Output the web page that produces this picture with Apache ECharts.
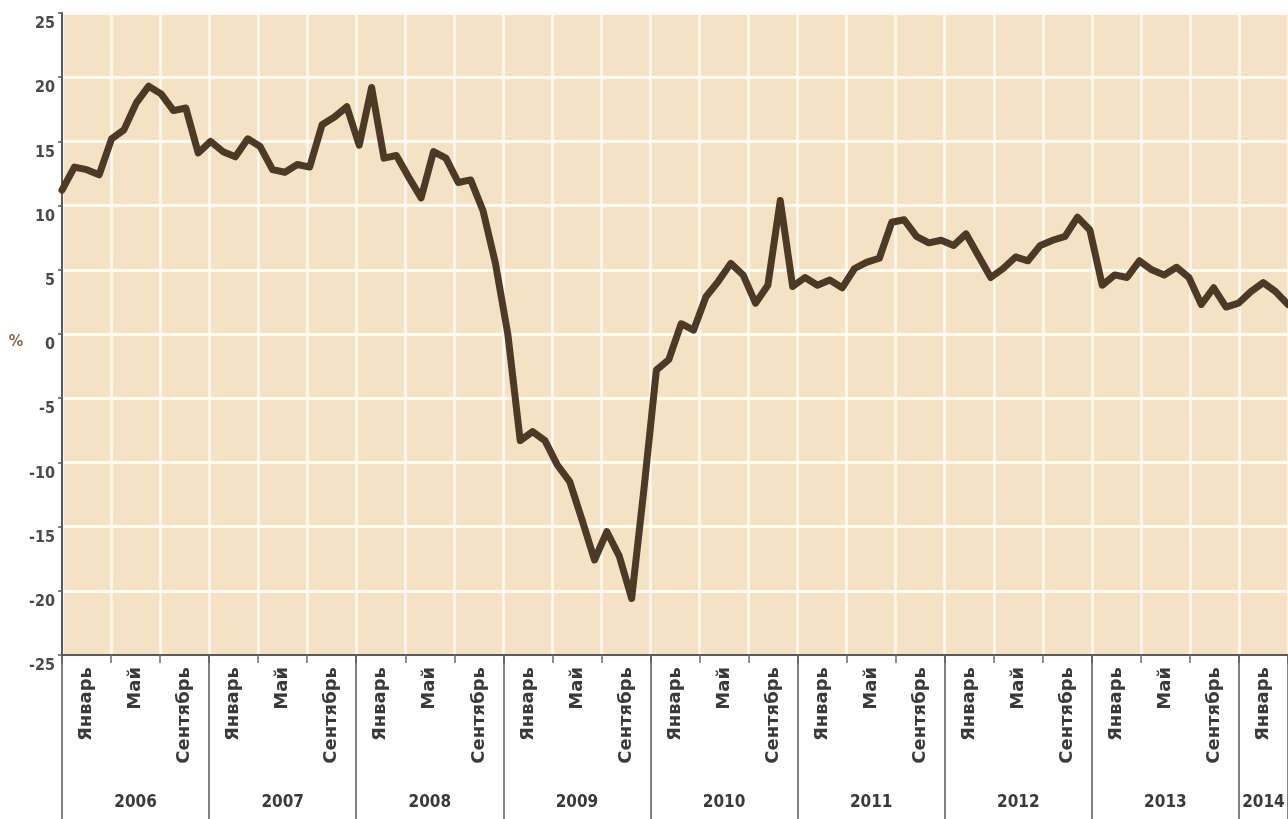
<!DOCTYPE html>
<html>
<head>
<meta charset="utf-8">
<script src="https://cdn.jsdelivr.net/npm/echarts@6/dist/echarts.min.js"></script>
<style>
  html, body { margin: 0; padding: 0; background: #ffffff; overflow: hidden; }
  #chart { width: 1288px; height: 819px; }
</style>
</head>
<body>
<div id="chart"></div>
<script>
// ---- data ----
const years = ['2006', '2007', '2008', '2009', '2010', '2011', '2012', '2013', '2014'];
const monthCodes = ['01', '02', '03', '04', '05', '06', '07', '08', '09', '10', '11', '12'];
const groupNames = ['Январь', 'Май', 'Сентябрь'];   // each labels a 4-month block
const values = [
  // 2006
  11.2, 13.0, 12.8, 12.4, 15.2, 15.9, 18.0, 19.3, 18.7, 17.4, 17.6, 14.1,
  // 2007
  15.0, 14.2, 13.8, 15.2, 14.6, 12.8, 12.6, 13.2, 13.0, 16.3, 16.9, 17.7,
  // 2008
  14.7, 19.2, 13.7, 13.9, 12.2, 10.6, 14.2, 13.7, 11.8, 12.0, 9.6, 5.5,
  // 2009
  0.0, -8.3, -7.6, -8.3, -10.2, -11.5, -14.5, -17.6, -15.4, -17.3, -20.6, -12.0,
  // 2010
  -2.8, -2.0, 0.8, 0.3, 2.9, 4.1, 5.5, 4.6, 2.4, 3.8, 10.4, 3.7,
  // 2011
  4.4, 3.8, 4.2, 3.6, 5.1, 5.6, 5.9, 8.7, 8.9, 7.6, 7.1, 7.3,
  // 2012
  6.9, 7.8, 6.1, 4.4, 5.1, 6.0, 5.7, 6.9, 7.3, 7.6, 9.1, 8.1,
  // 2013
  3.8, 4.6, 4.4, 5.7, 5.0, 4.6, 5.2, 4.4, 2.3, 3.6, 2.1, 2.4,
  // 2014
  3.3, 4.0, 3.3, 2.3
];
const yTicks = { min: -25, max: 25, step: 5 };

// ---- derived categories ----
const months = years.flatMap(y => monthCodes.map(m => y + '-' + m)).slice(0, values.length);
const groupCount = Math.ceil(months.length / 4);
const groups = [];
const groupYear = [];
for (let i = 0; i < groupCount; i++) {
  const yr = years[Math.floor(i / 3)];
  groups.push(yr + ' ' + groupNames[i % 3]);
  groupYear.push(yr);
}
// middle block of every year carries the year label
const yearLabelAt = {};
years.forEach(y => {
  const idx = [];
  groupYear.forEach((g, i) => { if (g === y) idx.push(i); });
  if (idx.length) yearLabelAt[idx[Math.floor(idx.length / 2)]] = y;
});

const narrow = '"Liberation Sans Narrow", "DejaVu Sans Condensed", "Arial Narrow", sans-serif';

const chart = echarts.init(document.getElementById('chart'), null, { renderer: 'canvas' });
chart.setOption({
  animation: false,
  backgroundColor: '#ffffff',
  grid: {
    left: 62, right: 0, top: 13, bottom: 164,
    outerBoundsMode: 'none',
    containLabel: false,
    show: true, backgroundColor: '#f5e1c3', borderWidth: 0
  },
  xAxis: [
    {
      type: 'category',
      data: months,
      boundaryGap: false,
      position: 'bottom',
      axisLine: { show: true, onZero: false, lineStyle: { color: '#5a5a5a', width: 2 } },
      axisTick: { show: false },
      axisLabel: { show: false },
      splitLine: { show: false }
    },
    {
      type: 'category',
      data: groups,
      boundaryGap: true,
      position: 'bottom',
      axisLine: { show: false, onZero: false },
      axisTick: { show: true, interval: 0, length: 8, lineStyle: { color: '#6a6a6a', width: 1.5 } },
      splitLine: { show: true, interval: 0, lineStyle: { color: '#fffaf2', width: 2.5 } },
      axisLabel: {
        show: true, interval: 0, rotate: 90, margin: 12,
        formatter: (v, i) => groupNames[i % 3],
        fontFamily: 'DejaVu Sans', fontWeight: 'bold', fontSize: 18, color: '#3a3a3a'
      }
    },
    {
      type: 'category',
      data: groups,
      boundaryGap: true,
      position: 'bottom',
      axisLine: { show: false, onZero: false },
      axisTick: {
        show: true,
        interval: (i) => i % 3 === 0,
        length: 164,
        lineStyle: { color: '#5a5a5a', width: 1.5 }
      },
      splitLine: { show: false },
      axisLabel: {
        show: true, interval: 0, margin: 139,
        formatter: (v, i) => yearLabelAt[i] || '',
        fontFamily: narrow, fontWeight: 'bold', fontSize: 17, color: '#3a3a3a'
      }
    }
  ],
  yAxis: {
    type: 'value',
    min: yTicks.min,
    max: yTicks.max,
    interval: yTicks.step,
    name: '%',
    nameLocation: 'middle',
    nameGap: 27,
    nameRotate: 0,
    nameTextStyle: { fontFamily: narrow, fontWeight: 'bold', fontSize: 16, color: '#8a6a50', verticalAlign: 'top' },
    axisLine: { show: true, lineStyle: { color: '#5a5a5a', width: 2 } },
    axisTick: { show: true, length: 4, lineStyle: { color: '#5a5a5a', width: 1.5 } },
    splitLine: { show: true, lineStyle: { color: '#fffaf2', width: 3 } },
    axisLabel: {
      margin: 7, verticalAlign: 'top', padding: [3, 0, 0, 0],
      fontFamily: narrow, fontWeight: 'bold', fontSize: 16, color: '#4a4a4a'
    }
  },
  series: [{
    type: 'line',
    xAxisIndex: 0,
    data: values,
    symbol: 'none',
    lineStyle: { color: '#4d3a26', width: 7, cap: 'round', join: 'round' },
    clip: true
  }]
});
</script>
</body>
</html>
